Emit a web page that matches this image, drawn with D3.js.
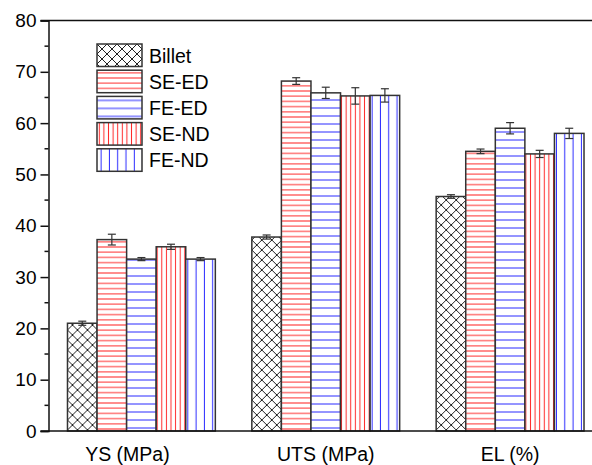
<!DOCTYPE html>
<html>
<head>
<meta charset="utf-8">
<script src="https://cdn.jsdelivr.net/npm/d3@7/dist/d3.min.js"></script>
<style>
  html, body { margin: 0; padding: 0; background: #fff; }
  svg { display: block; font-family: "Liberation Sans", Arial, sans-serif; }
</style>
</head>
<body>
<div id="chart"></div>
<script>
// Mechanical properties of billet vs. extruded samples
const categories = ["YS (MPa)", "UTS (MPa)", "EL (%)"];
const seriesNames = ["Billet", "SE-ED", "FE-ED", "SE-ND", "FE-ND"];
const billet = [21.0, 37.8, 45.7];
const seED   = [37.3, 68.2, 54.5];
const feED   = [33.5, 65.9, 59.0];
const seND   = [35.9, 65.3, 54.0];
const feND   = [33.5, 65.4, 58.0];
const billetErr = [0.4, 0.4, 0.35];
const seEDErr   = [1.05, 0.65, 0.45];
const feEDErr   = [0.3, 1.1, 1.1];
const seNDErr   = [0.5, 1.6, 0.7];
const feNDErr   = [0.3, 1.3, 1.0];
const yTicks = [0, 10, 20, 30, 40, 50, 60, 70, 80];

const values = [billet, seED, feED, seND, feND];
const errors = [billetErr, seEDErr, feEDErr, seNDErr, feNDErr];

const W = 592, H = 465;
const plotLeft = 48.5, plotTop = 20.5, plotBottom = 431;

const svg = d3.select("#chart").append("svg")
  .attr("width", W).attr("height", H);

const defs = svg.append("defs");

// Fill patterns: cross-hatch, horizontal and vertical line fills
function hatch(id, size, draw) {
  const p = defs.append("pattern").attr("id", id)
    .attr("patternUnits", "userSpaceOnUse")
    .attr("width", size[0]).attr("height", size[1]);
  p.append("rect").attr("width", size[0]).attr("height", size[1]).attr("fill", "#fff");
  draw(p);
}
hatch("p-cross", [10, 10], p => {
  p.append("path").attr("d", "M0,0L10,10M0,10L10,0M-1,9L1,11M9,-1L11,1")
    .attr("stroke", "#222").attr("stroke-width", 1).attr("fill", "none");
});
hatch("p-hred", [10, 5.2], p => {
  p.append("line").attr("x1", 0).attr("x2", 10).attr("y1", 2.6).attr("y2", 2.6)
    .attr("stroke", "#ff2a2a").attr("stroke-width", 1);
});
hatch("p-hblue", [10, 8], p => {
  p.append("line").attr("x1", 0).attr("x2", 10).attr("y1", 4).attr("y2", 4)
    .attr("stroke", "#2a2aff").attr("stroke-width", 1);
});
hatch("p-vred", [4.6, 10], p => {
  p.append("line").attr("y1", 0).attr("y2", 10).attr("x1", 2.3).attr("x2", 2.3)
    .attr("stroke", "#ff2a2a").attr("stroke-width", 1);
});
hatch("p-vblue", [8.3, 10], p => {
  p.append("line").attr("y1", 0).attr("y2", 10).attr("x1", 4.1).attr("x2", 4.1)
    .attr("stroke", "#2a2aff").attr("stroke-width", 1);
});
const fills = ["url(#p-cross)", "url(#p-hred)", "url(#p-hblue)", "url(#p-vred)", "url(#p-vblue)"];

const x0 = d3.scaleBand().domain(categories)
  .range([plotLeft, 603]).paddingInner(0.198).paddingOuter(0.103);
const x1 = d3.scaleBand().domain(seriesNames)
  .range([0, x0.bandwidth()]).padding(0);
const y = d3.scaleLinear().domain([0, 80]).range([plotBottom, plotTop]);

// Bars
const groups = svg.append("g").selectAll("g")
  .data(categories).join("g")
  .attr("transform", c => `translate(${x0(c)},0)`);

groups.each(function(c, ci) {
  const g = d3.select(this);
  seriesNames.forEach((s, si) => {
    const v = values[si][ci];
    g.append("rect")
      .attr("x", x1(s)).attr("width", x1.bandwidth())
      .attr("y", y(v)).attr("height", y(0) - y(v))
      .attr("fill", fills[si])
      .attr("stroke", "#333").attr("stroke-width", 1.5);
  });
  // Error bars
  seriesNames.forEach((s, si) => {
    const v = values[si][ci], e = errors[si][ci];
    const cx = x1(s) + x1.bandwidth() / 2;
    const eb = g.append("g").attr("stroke", "#333").attr("stroke-width", 1.2);
    eb.append("line").attr("x1", cx).attr("x2", cx).attr("y1", y(v - e)).attr("y2", y(v + e));
    eb.append("line").attr("x1", cx - 4).attr("x2", cx + 4).attr("y1", y(v + e)).attr("y2", y(v + e));
    eb.append("line").attr("x1", cx - 4).attr("x2", cx + 4).attr("y1", y(v - e)).attr("y2", y(v - e));
  });
});

// Top frame line
svg.append("line").attr("x1", plotLeft - 8).attr("x2", W).attr("y1", plotTop).attr("y2", plotTop)
  .attr("stroke", "#111").attr("stroke-width", 1.5);

// Left axis with minor ticks
const yAxis = d3.axisLeft(y).tickValues(yTicks).tickSize(8).tickPadding(4);
const ya = svg.append("g").attr("transform", `translate(${plotLeft},0)`).call(yAxis);
ya.select(".domain").attr("stroke", "#111").attr("stroke-width", 1.5);
ya.selectAll(".tick line").attr("stroke", "#111").attr("stroke-width", 1.5);
ya.selectAll(".tick text").attr("font-size", 19).attr("fill", "#000")
  .attr("font-family", "'Liberation Sans', Arial, sans-serif");
const minor = d3.range(5, 80, 10);
ya.selectAll(".minor").data(minor).join("line").attr("class", "minor")
  .attr("x1", -4).attr("x2", 0).attr("y1", d => y(d)).attr("y2", d => y(d))
  .attr("stroke", "#111").attr("stroke-width", 1.5);

// Bottom axis
const xAxis = d3.axisBottom(x0).tickSize(0).tickPadding(16);
const xa = svg.append("g").attr("transform", `translate(0,${plotBottom})`).call(xAxis);
xa.select(".domain").remove();
xa.append("line").attr("x1", plotLeft - 8).attr("x2", W).attr("y1", 0).attr("y2", 0)
  .attr("stroke", "#111").attr("stroke-width", 1.5);
xa.selectAll(".tick text").attr("font-size", 19.5).attr("fill", "#000")
  .attr("font-family", "'Liberation Sans', Arial, sans-serif")
  .attr("dx", (d, i) => i === 0 ? -14 : 0);

// Legend
const legend = svg.append("g").attr("transform", "translate(97,44)");
seriesNames.forEach((s, i) => {
  const row = legend.append("g").attr("transform", `translate(0,${i * 26.2})`);
  row.append("rect").attr("width", 45).attr("height", 22.5)
    .attr("fill", fills[i]).attr("stroke", "#333").attr("stroke-width", 1.5);
  row.append("text").attr("x", 52).attr("y", 18.5)
    .attr("font-size", 19.5).attr("fill", "#000").text(s);
});
</script>
</body>
</html>
